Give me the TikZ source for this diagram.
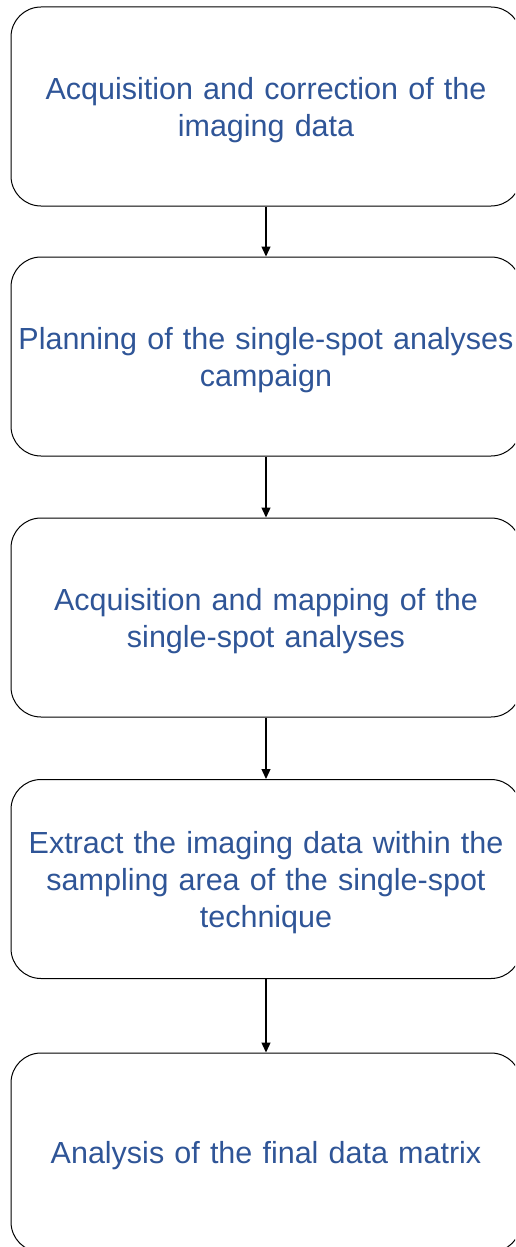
\documentclass[tikz,border=0pt]{standalone}
\usepackage{fontspec}
\setmainfont{Liberation Sans}
\usetikzlibrary{arrows.meta}
\definecolor{txtblue}{HTML}{2F5597}
\begin{document}
\begin{tikzpicture}[x=1pt,y=-1pt,
  stepbox/.style={draw=black, line width=1pt, rounded corners=30pt, minimum width=510pt, minimum height=199pt, inner sep=0pt},
  steptext/.style={text width=510pt, align=center, text=txtblue, font=\fontsize{30.5}{37}\selectfont, inner sep=0pt, yshift=-3.5pt},
  flow/.style={draw=black, line width=1.3pt, -{Triangle[length=10pt,width=9pt]}}]
\useasboundingbox (0,0) rectangle (515,1247);
\begin{scope}
\clip (0,0) rectangle (515,1247);
\node[stepbox, label={[steptext]center:{Acquisition and correction of the\\imaging data}}] (a) at (266,106.5) {};
\node[stepbox, label={[steptext]center:{Planning of the single-spot analyses\\campaign}}] (b) at (266,356.5) {};
\node[stepbox, label={[steptext]center:{Acquisition and mapping of the\\single-spot analyses}}] (c) at (266,617.5) {};
\node[stepbox, label={[steptext]center:{Extract the imaging data within the\\sampling area of the single-spot\\technique}}] (d) at (266,879) {};
\node[stepbox, label={[steptext]center:{Analysis of the final data matrix}}] (e) at (266,1152.5) {};
\end{scope}
\draw[flow] (a.south) -- (b.north);
\draw[flow] (b.south) -- (c.north);
\draw[flow] (c.south) -- (d.north);
\draw[flow] (d.south) -- (e.north);
\end{tikzpicture}
\end{document}
